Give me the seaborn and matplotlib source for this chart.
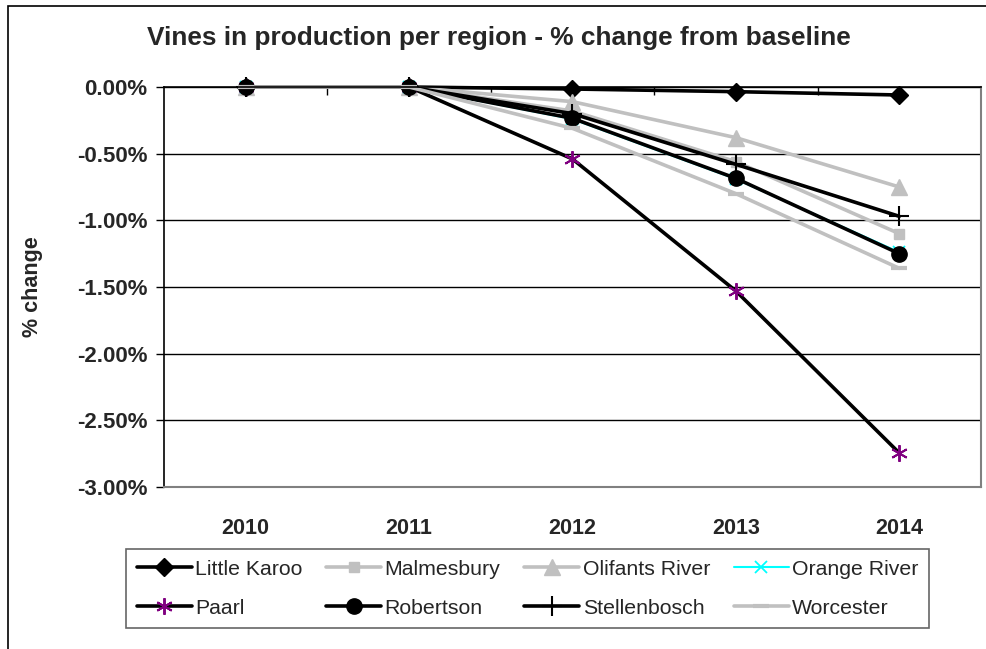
import matplotlib
matplotlib.use("Agg")
import matplotlib.pyplot as plt
import matplotlib.patches as mpatches
from matplotlib.ticker import FuncFormatter, FixedLocator
import seaborn as sns
import pandas as pd

years = [2010, 2011, 2012, 2013, 2014]
regions = ["Little Karoo", "Malmesbury", "Olifants River", "Orange River",
           "Paarl", "Robertson", "Stellenbosch", "Worcester"]
little_karoo = [0.0, 0.0, -0.015, -0.035, -0.06]
malmesbury = [0.0, 0.0, -0.18, -0.56, -1.10]
olifants_river = [0.0, 0.0, -0.11, -0.38, -0.75]
orange_river = [0.0, 0.0, -0.24, -0.69, -1.24]
paarl = [0.0, 0.0, -0.54, -1.53, -2.745]
robertson = [0.0, 0.0, -0.235, -0.685, -1.25]
stellenbosch = [0.0, 0.0, -0.20, -0.58, -0.97]
worcester = [0.0, 0.0, -0.31, -0.80, -1.36]
series_values = [little_karoo, malmesbury, olifants_river, orange_river,
                 paarl, robertson, stellenbosch, worcester]
y_ticks = [0.0, -0.5, -1.0, -1.5, -2.0, -2.5, -3.0]

title = "Vines in production per region - % change from baseline"
y_label = "% change"

sns.set_style("white")
plt.rcParams["font.family"] = ["Liberation Sans", "DejaVu Sans"]
plt.rcParams["axes.unicode_minus"] = False

GRAY = "#C0C0C0"
LW = 2.6
styles = {
    "Little Karoo": dict(color="black", marker="D", ms=9, mfc="black", mec="black", lw=LW),
    "Malmesbury": dict(color=GRAY, marker="s", ms=7.5, mfc=GRAY, mec=GRAY, lw=LW),
    "Olifants River": dict(color=GRAY, marker="^", ms=11, mfc=GRAY, mec=GRAY, lw=LW),
    "Orange River": dict(color="#00FFFF", marker="x", ms=9, mfc="#00FFFF", mec="#00FFFF", mew=1.3, lw=1.5),
    "Paarl": dict(color="black", marker=(6, 2, 0), ms=12, mfc="#800080", mec="#800080", mew=1.4, lw=LW),
    "Robertson": dict(color="black", marker="o", ms=11, mfc="black", mec="black", lw=LW),
    "Stellenbosch": dict(color="black", marker="+", ms=15, mfc="black", mec="black", mew=1.5, lw=LW),
    "Worcester": dict(color=GRAY, marker="_", ms=11, mfc=GRAY, mec=GRAY, mew=3, lw=LW),
}

W, H = 987, 649
fig = plt.figure(figsize=(W / 100, H / 100), dpi=100)
fig.patch.set_facecolor("white")
ax = fig.add_axes([164 / W, 1 - 487 / H, (981 - 164) / W, (487 - 87) / H])

for name, vals in zip(regions, series_values):
    df = pd.DataFrame({"year": years, "value": vals})
    st = styles[name]
    sns.lineplot(data=df, x="year", y="value", ax=ax, label=name,
                 color=st["color"], marker=st["marker"], markersize=st["ms"],
                 markerfacecolor=st["mfc"], markeredgecolor=st["mec"],
                 markeredgewidth=st.get("mew", 1.0), linewidth=st["lw"],
                 clip_on=False, legend=False)

ax.set_xlim(years[0] - 0.5, years[-1] + 0.5)
ax.set_ylim(y_ticks[-1], y_ticks[0])
ax.yaxis.set_major_locator(FixedLocator(y_ticks))
ax.yaxis.set_major_formatter(FuncFormatter(lambda v, p: f"{v:.2f}%"))
ax.xaxis.set_major_locator(FixedLocator(years))
ax.xaxis.set_minor_locator(FixedLocator([y + 0.5 for y in years[:-1]]))
ax.set_xlabel("")
ax.set_ylabel("")

ax.grid(axis="y", color="black", linewidth=1.0)
ax.set_axisbelow(True)

for lbl in ax.get_yticklabels() + ax.get_xticklabels():
    lbl.set_fontweight("bold")
ax.tick_params(axis="y", which="major", left=True, direction="out", length=6,
               width=1, color="black", labelsize=16, pad=6)
ax.tick_params(axis="x", which="major", bottom=False, top=False, length=0,
               labelsize=15.5, pad=22)
ax.tick_params(axis="x", which="minor", bottom=False, top=True, direction="in",
               length=6, width=1, color="black")

ax.spines["left"].set_color("black")
ax.spines["left"].set_linewidth(1.2)
ax.spines["top"].set_color("black")
ax.spines["top"].set_linewidth(1.2)
ax.spines["top"].set_zorder(5)
ax.spines["right"].set_color("#808080")
ax.spines["bottom"].set_color("#808080")
ax.spines["right"].set_linewidth(1.5)
ax.spines["bottom"].set_linewidth(1.5)

fig.text(499 / W, 1 - 38 / H, title, ha="center", va="center",
         fontsize=18.9, fontweight="bold")
fig.text(33 / W, 1 - 287 / H, y_label, ha="center", va="center",
         rotation=90, fontsize=15.5, fontweight="bold")

handles, labels = ax.get_legend_handles_labels()
ncol = 4
nrow = (len(handles) + ncol - 1) // ncol
order = [r * ncol + c for c in range(ncol) for r in range(nrow)]
handles = [handles[i] for i in order]
labels = [labels[i] for i in order]
leg = fig.legend(handles, labels, ncol=ncol, loc="upper left",
                 bbox_to_anchor=(126 / W, 1 - 549 / H), borderaxespad=0,
                 fontsize=15.3, frameon=True, fancybox=False, shadow=False,
                 handlelength=2.6, handletextpad=0.15, columnspacing=1.12,
                 labelspacing=0.95, borderpad=0.5)
leg.get_frame().set_edgecolor("#404040")
leg.get_frame().set_linewidth(1.2)

# outer chart-area border
fig.patches.append(mpatches.Rectangle((8 / W, -0.1), 1.2, 1 - 6 / H + 0.1,
                                      transform=fig.transFigure, fill=False,
                                      edgecolor="black", linewidth=1.2))

fig.savefig("out.png", dpi=100)
